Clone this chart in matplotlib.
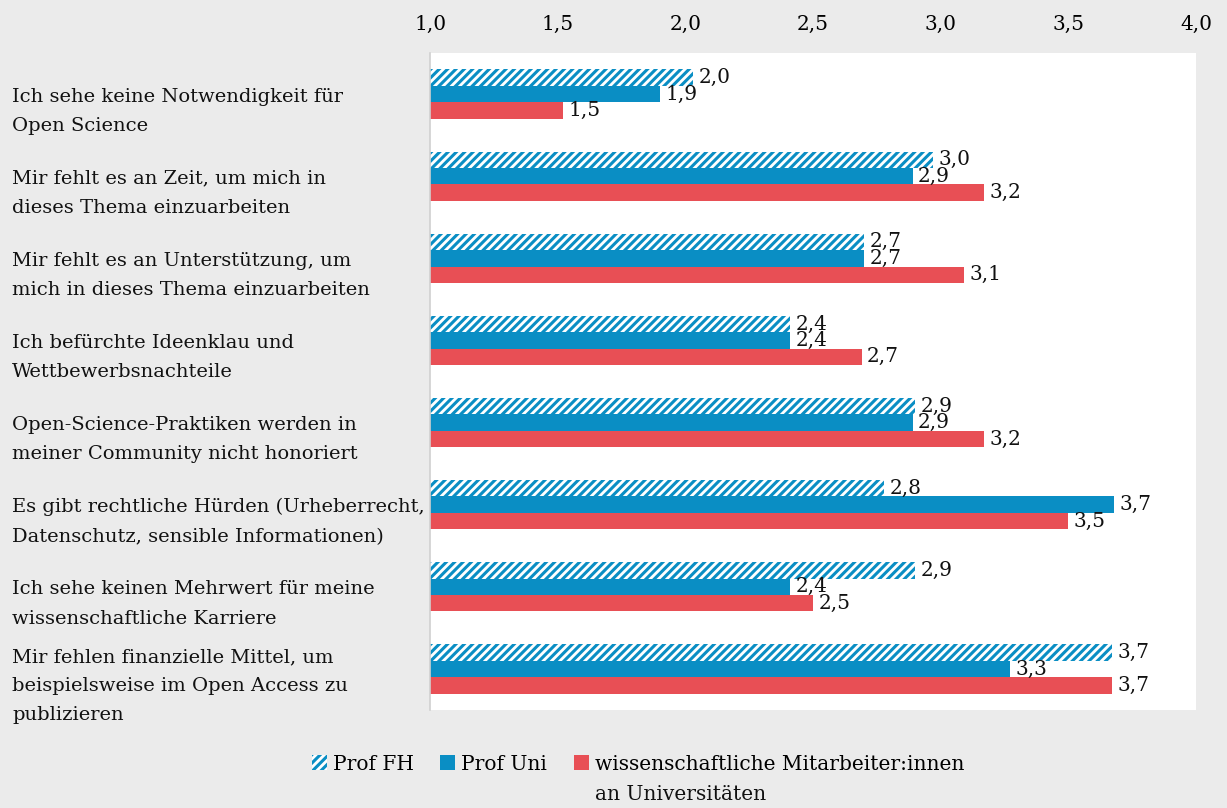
import matplotlib
matplotlib.use("Agg")
import numpy as np
import matplotlib.pyplot as plt
from matplotlib.patches import Patch
from matplotlib.transforms import blended_transform_factory

# Data
categories = [
    "Ich sehe keine Notwendigkeit für\nOpen Science",
    "Mir fehlt es an Zeit, um mich in\ndieses Thema einzuarbeiten",
    "Mir fehlt es an Unterstützung, um\nmich in dieses Thema einzuarbeiten",
    "Ich befürchte Ideenklau und\nWettbewerbsnachteile",
    "Open-Science-Praktiken werden in\nmeiner Community nicht honoriert",
    "Es gibt rechtliche Hürden (Urheberrecht,\nDatenschutz, sensible Informationen)",
    "Ich sehe keinen Mehrwert für meine\nwissenschaftliche Karriere",
    "Mir fehlen finanzielle Mittel, um\nbeispielsweise im Open Access zu\npublizieren",
]
prof_fh = [2.03, 2.97, 2.70, 2.41, 2.90, 2.78, 2.90, 3.67]
prof_uni = [1.90, 2.89, 2.70, 2.41, 2.89, 3.68, 2.41, 3.27]
wiss_ma = [1.52, 3.17, 3.09, 2.69, 3.17, 3.50, 2.50, 3.67]
series_names = ["Prof FH", "Prof Uni", "wissenschaftliche Mitarbeiter:innen"]
series_name_2nd_line = "an Universitäten"
xticks = [1.0, 1.5, 2.0, 2.5, 3.0, 3.5, 4.0]

blue = "#0a8ec4"
red = "#e84f55"
bg = "#ebebeb"

plt.rcParams['font.family'] = ['DejaVu Serif']
plt.rcParams['hatch.linewidth'] = 2.2
plt.rcParams['hatch.color'] = blue

fig = plt.figure(figsize=(12.27, 8.08), dpi=100, facecolor=bg)
ax = fig.add_axes([0.3505, 0.1213, 0.6242, 0.8131])
ax.set_facecolor("white")

n = len(categories)
y = np.arange(n)
h = 0.2

bars_fh = ax.barh(y - h, np.array(prof_fh) - 1, height=h, left=1, color="white",
                  edgecolor=blue, hatch="////", linewidth=0)
bars_uni = ax.barh(y, np.array(prof_uni) - 1, height=h, left=1, color=blue, linewidth=0)
bars_ma = ax.barh(y + h, np.array(wiss_ma) - 1, height=h, left=1, color=red, linewidth=0)

fs = 14.5
fs_cat = 14
for bars, vals in [(bars_fh, prof_fh), (bars_uni, prof_uni), (bars_ma, wiss_ma)]:
    for b, v in zip(bars, vals):
        ax.annotate(f"{v:.1f}".replace(".", ","), (v, b.get_y() + b.get_height() / 2),
                    xytext=(4, 0), textcoords="offset points", va="center", ha="left",
                    fontsize=fs, color="#111111")

ax.set_xlim(1, 4)
ax.set_ylim(n - 0.5, -0.5)
ax.set_xticks(xticks)
ax.set_xticklabels([f"{t:.1f}".replace(".", ",") for t in xticks], fontsize=fs)
ax.xaxis.tick_top()
ax.tick_params(axis="x", length=0, pad=14)
ax.set_yticks(y)
ax.set_yticklabels([])
ax.tick_params(axis="y", length=0)

trans = blended_transform_factory(fig.transFigure, ax.transData)
for i, c in enumerate(categories):
    ax.text(0.01, y[i] + 0.21, c, transform=trans,
            ha="left", va="center", fontsize=fs_cat, linespacing=1.8, color="#111111")

for s in ["top", "right", "bottom"]:
    ax.spines[s].set_visible(False)
ax.spines["left"].set_color("#d0d0d0")
ax.spines["left"].set_linewidth(1.2)

handles = [
    Patch(facecolor="white", edgecolor=blue, hatch="////", linewidth=0),
    Patch(facecolor=blue, linewidth=0),
    Patch(facecolor=red, linewidth=0),
]
leg = fig.legend(handles, series_names, loc="center", bbox_to_anchor=(0.52, 0.054), ncol=3,
                 frameon=False, fontsize=fs, handlelength=0.75, handleheight=0.75, handletextpad=0.3,
                 columnspacing=1.3, borderaxespad=0)

# second line of the third legend label, set under the first
fig.canvas.draw()
bb = leg.get_texts()[2].get_window_extent().transformed(fig.transFigure.inverted())
fig.text(bb.x0, bb.y0 - 0.014, series_name_2nd_line, ha="left", va="top", fontsize=fs, color="#111111")

fig.savefig("out.png", dpi=100, facecolor=bg)
